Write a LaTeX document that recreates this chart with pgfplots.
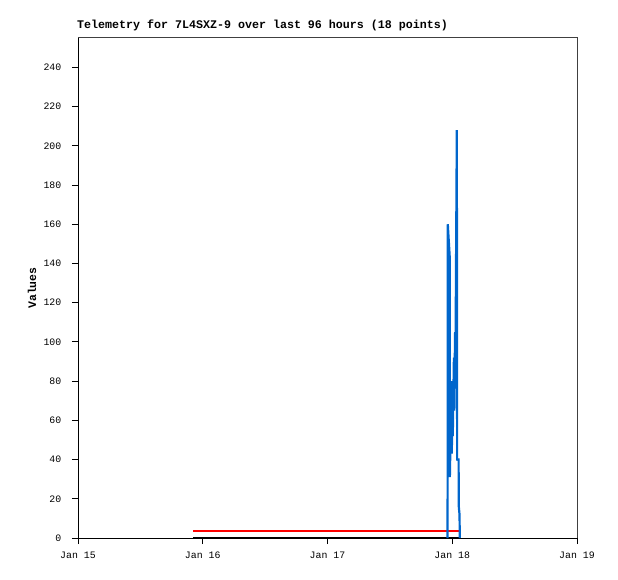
\documentclass[border=0pt]{standalone}
\usepackage{pgfplots}
\pgfplotsset{compat=1.18}
\usepackage{fontspec}
\setmainfont{Liberation Mono}
\definecolor{telblue}{HTML}{0066CC}
\definecolor{framegray}{HTML}{404040}
\begin{document}
\begin{tikzpicture}
\begin{axis}[
name=ax,
scale only axis,
width=499bp, height=500bp,
xmin=0, xmax=96,
ymin=0, ymax=255,
xtick={0,24,48,72,96},
xticklabels={Jan 15, Jan 16, Jan 17, Jan 18, Jan 19},
ytick={0,20,...,240},
xtick pos=left,
ytick pos=left,
tick align=outside,
major tick length=6bp,
tick style={black, line width=1bp},
axis line style={draw=none},
clip=false,
/pgf/number format/assume math mode=true,
tick label style={font=\fontsize{9.9}{11}\selectfont},
xticklabel style={anchor=north, inner sep=0pt, yshift=-7.5bp},
yticklabel style={anchor=east, inner sep=0pt, xshift=-10.5bp},
title={Telemetry for 7L4SXZ-9 over last 96 hours (18 points)},
title style={at={(axis description cs:0,1)}, anchor=south west, inner sep=0pt, xshift=-1bp, yshift=1bp, font=\bfseries\fontsize{11.7}{12}\selectfont},
ylabel={Values},
ylabel style={at={(axis description cs:-0.0922,0.5)}, anchor=center, inner sep=0pt, font=\bfseries\fontsize{11.5}{12}\selectfont},
]
% frame: grey top and right, black left and bottom
\draw[framegray, line width=1bp] (rel axis cs:0,1) -- (rel axis cs:1,1) -- (rel axis cs:1,0);
\draw[black, line width=1bp] (rel axis cs:0,1) -- (rel axis cs:0,0) -- (rel axis cs:1,0);
%% baseline
\addplot[black, line width=1.8bp] coordinates {(22.18,0) (73.49,0)};
%% threshold
\addplot[red, line width=1.8bp] coordinates {(22.18,3.7) (73.49,3.7)};
%% telemetry
\addplot[telblue, line width=2.2bp, line join=miter] coordinates {
(71.10,0) (71.14,160) (71.50,144) (71.54,31) (71.86,80) (71.90,43)
(72.06,65) (72.10,52) (72.32,92) (72.36,65) (72.55,105) (72.59,77)
(72.88,208) (72.94,40) (73.22,40) (73.26,16) (73.40,12) (73.45,0)};
\end{axis}
\pgfresetboundingbox
\path[use as bounding box] ([shift={(-78bp,-41bp)}]ax.south west) rectangle ([shift={(41bp,38bp)}]ax.north east);
\end{tikzpicture}
\end{document}
